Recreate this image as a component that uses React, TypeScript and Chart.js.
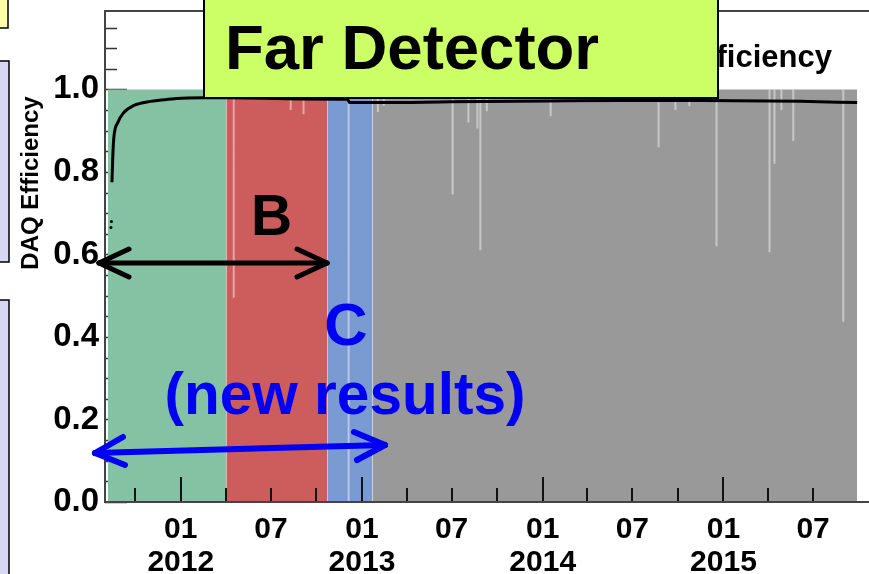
import React, { useEffect, useRef } from "react";
import { Chart, registerables } from "chart.js";

Chart.register(...registerables);

// ---- time axis (dates as ISO strings, converted to days since 2012-01-01) ----
const AXIS_START = "2011-08-01";
const AXIS_END = "2015-11-01";

// ---- running periods ----
const PERIOD_STARTS = ["2011-08-07", "2012-04-02", "2012-10-23", "2013-01-22"];
const PERIOD_ENDS = ["2012-04-02", "2012-10-23", "2013-01-22", "2015-09-28"];
const PERIOD_COLORS = ["#85c1a3", "#cd5c5c", "#7a9bd2", "#999999"];
const DAILY_LEVEL = 1.0;

// ---- days with reduced DAQ efficiency ----
const DIP_DATES = [
  "2012-04-17", "2012-08-10", "2012-09-05", "2012-12-05",
  "2013-02-02", "2013-02-14", "2013-07-03", "2013-08-04", "2013-08-22",
  "2013-08-28", "2013-09-10", "2014-01-17", "2014-08-23", "2014-09-26",
  "2014-10-24", "2014-12-18", "2015-04-04", "2015-04-14", "2015-04-28",
  "2015-05-22", "2015-08-31",
];
const DIP_VALUES = [
  0.495, 0.95, 0.94, 0.0,
  0.945, 0.96, 0.745, 0.92, 0.905,
  0.61, 0.947, 0.935, 0.86, 0.95,
  0.96, 0.62, 0.605, 0.82, 0.95,
  0.875, 0.437,
];

// ---- cumulative efficiency ----
const CUM_DATES = [
  "2011-08-15", "2011-08-17", "2011-08-19", "2011-08-27", "2011-09-08",
  "2011-09-28", "2011-11-01", "2011-12-06", "2012-01-15", "2012-02-16",
  "2012-04-11", "2012-08-30", "2012-12-03", "2012-12-07", "2013-02-08",
  "2013-06-29", "2014-01-17", "2014-06-07", "2014-11-15", "2015-06-05",
  "2015-09-28",
];
const CUM_VALUES = [
  0.775, 0.845, 0.885, 0.92, 0.944,
  0.961, 0.971, 0.976, 0.979, 0.98,
  0.98, 0.977, 0.976, 0.968, 0.968,
  0.97, 0.972, 0.973, 0.973, 0.971,
  0.968,
];
const EARLY_DATES = ["2011-08-13", "2011-08-14"];
const EARLY_VALUES = [0.665, 0.68];

// ---- axis ticks ----
const Y_MAX = 1.19;
const Y_TICKS = [0, 0.2, 0.4, 0.6, 0.8, 1.0];
const X_LABEL_DATES = [
  "2012-01-01", "2012-07-01", "2013-01-01", "2013-07-01",
  "2014-01-01", "2014-07-01", "2015-01-01", "2015-07-01",
];
const X_LABEL_TEXT: (string | string[])[] = [
  ["01", "2012"], "07", ["01", "2013"], "07",
  ["01", "2014"], "07", ["01", "2015"], "07",
];
const X_MAJOR_TICKS = ["2012-01-01", "2013-01-01", "2014-01-01", "2015-01-01"];
const X_MINOR_TICKS = [
  "2011-10-01", "2012-04-01", "2012-07-01", "2012-10-01",
  "2013-04-01", "2013-07-01", "2013-10-01", "2014-04-01",
  "2014-07-01", "2014-10-01", "2015-04-01", "2015-07-01",
];

const FONT = "'Liberation Sans', Arial, Helvetica, sans-serif";
const EPOCH = Date.parse("2012-01-01T00:00:00Z");
const day = (s: string) => (Date.parse(s + "T00:00:00Z") - EPOCH) / 86400000;

// inward tick marks and the frame around the plot
const frameTicks = {
  id: "frameTicks",
  beforeDatasetsDraw(chart: any) {
    const { ctx, chartArea, scales } = chart;
    const y = scales.y;
    ctx.save();
    ctx.strokeStyle = "#333";
    ctx.lineWidth = 1.5;
    for (let i = 0; i * 0.05 <= Y_MAX; i++) {
      const v = i * 0.05;
      const py = Math.round(y.getPixelForValue(v)) + 0.5;
      const len = i % 4 === 0 ? 22 : 12;
      ctx.beginPath();
      ctx.moveTo(chartArea.left, py);
      ctx.lineTo(chartArea.left + len, py);
      ctx.stroke();
    }
    ctx.restore();
  },
  afterDatasetsDraw(chart: any) {
    const { ctx, chartArea, scales } = chart;
    const x = scales.x;
    ctx.save();
    ctx.strokeStyle = "#111";
    ctx.lineWidth = 2;
    const tick = (d: string, len: number) => {
      const px = Math.round(x.getPixelForValue(day(d)));
      ctx.beginPath();
      ctx.moveTo(px, chartArea.bottom);
      ctx.lineTo(px, chartArea.bottom - len);
      ctx.stroke();
    };
    X_MAJOR_TICKS.forEach((d) => tick(d, 25));
    X_MINOR_TICKS.forEach((d) => tick(d, 14));
    ctx.strokeStyle = "#444";
    ctx.lineWidth = 2;
    ctx.beginPath();
    ctx.moveTo(chartArea.right, chartArea.top);
    ctx.lineTo(chartArea.left, chartArea.top);
    ctx.lineTo(chartArea.left, chartArea.bottom);
    ctx.lineTo(chartArea.right, chartArea.bottom);
    ctx.stroke();
    ctx.restore();
  },
};

export default function App() {
  const ref = useRef<HTMLCanvasElement | null>(null);

  useEffect(() => {
    if (!ref.current) return;

    const periodSets = PERIOD_STARTS.map((s, i) => ({
      type: "line" as const,
      data: [
        { x: day(s), y: DAILY_LEVEL },
        { x: day(PERIOD_ENDS[i]), y: DAILY_LEVEL },
      ],
      borderWidth: 0,
      borderColor: PERIOD_COLORS[i],
      backgroundColor: PERIOD_COLORS[i],
      fill: "origin",
      pointRadius: 0,
      order: 3,
    }));

    const dipPoints: { x: number; y: number | null }[] = [];
    DIP_DATES.forEach((d, i) => {
      dipPoints.push({ x: day(d), y: DAILY_LEVEL });
      dipPoints.push({ x: day(d), y: DIP_VALUES[i] });
      dipPoints.push({ x: day(d), y: null });
    });

    const chart = new Chart(ref.current, {
      type: "line",
      data: {
        datasets: [
          {
            data: CUM_DATES.map((d, i) => ({ x: day(d), y: CUM_VALUES[i] })),
            borderColor: "#000",
            borderWidth: 3,
            pointRadius: 0,
            fill: false,
            cubicInterpolationMode: "monotone",
            order: 0,
          },
          {
            data: EARLY_DATES.map((d, i) => ({ x: day(d), y: EARLY_VALUES[i] })),
            showLine: false,
            pointRadius: 1.5,
            pointBackgroundColor: "#000",
            pointBorderWidth: 0,
            order: 0,
          },
          {
            data: dipPoints,
            borderColor: "rgba(255,255,255,0.45)",
            borderWidth: 2,
            pointRadius: 0,
            spanGaps: false,
            fill: false,
            order: 1,
          },
          ...periodSets,
        ] as any,
      },
      options: {
        animation: false,
        responsive: false,
        events: [],
        layout: { padding: { top: 11, right: 26, left: 0, bottom: 0 } },
        plugins: {
          legend: { display: false },
          tooltip: { enabled: false },
          title: { display: false },
        },
        scales: {
          x: {
            type: "linear",
            min: day(AXIS_START),
            max: day(AXIS_END),
            grid: { display: false, drawTicks: false },
            border: { display: false },
            afterBuildTicks: (s: any) => {
              s.ticks = X_LABEL_DATES.map((d) => ({ value: day(d) }));
            },
            afterFit: (s: any) => {
              s.height = 72;
              s.paddingLeft = 0;
              s.paddingRight = 0;
            },
            ticks: {
              autoSkip: false,
              maxRotation: 0,
              padding: 11,
              color: "#000",
              font: { family: FONT, size: 30, weight: "bold", lineHeight: 1.1 },
              callback: (_v: any, i: number) => X_LABEL_TEXT[i],
            },
          },
          y: {
            type: "linear",
            min: 0,
            max: Y_MAX,
            grid: { display: false, drawTicks: false },
            border: { display: false },
            afterBuildTicks: (s: any) => {
              s.ticks = Y_TICKS.map((v) => ({ value: v }));
            },
            afterFit: (s: any) => {
              s.width = 105;
              s.paddingTop = 0;
              s.paddingBottom = 0;
            },
            ticks: {
              padding: 6,
              color: "#000",
              font: { family: FONT, size: 33, weight: "bold" },
              callback: (v: any) => Number(v).toFixed(1),
            },
          },
        },
      } as any,
      plugins: [frameTicks],
    });

    return () => chart.destroy();
  }, []);

  return (
    <div
      style={{
        position: "fixed",
        left: 0,
        top: 0,
        width: 869,
        height: 574,
        overflow: "hidden",
        background: "#fff",
      }}
    >
      <canvas
        ref={ref}
        width={900}
        height={574}
        style={{ position: "absolute", left: 0, top: 0, width: 900, height: 574 }}
      />
      <svg
        width={869}
        height={574}
        style={{ position: "absolute", left: 0, top: 0 }}
        fontFamily={FONT}
      >
        {/* neighbouring slide panels */}
        <rect x={-3} y={-3} width={11} height={31} fill="#ffffaa" stroke="#000" strokeWidth={1.5} />
        <rect x={-3} y={61} width={12} height={201} fill="#d8d8f6" stroke="#000" strokeWidth={1.5} />
        <rect x={-3} y={300} width={12} height={290} fill="#d8d8f6" stroke="#000" strokeWidth={1.5} />

        {/* axis title */}
        <text
          transform="translate(38,183) rotate(-90)"
          textAnchor="middle"
          fontSize={24}
          fontWeight="bold"
          fill="#000"
        >
          DAQ Efficiency
        </text>

        {/* plot title */}
        <text x={832} y={67} textAnchor="end" fontSize={31} fontWeight="bold" fill="#000">
          DAQ Efficiency
        </text>

        {/* detector label */}
        <rect x={204} y={-3} width={514} height={101} fill="#ccff66" stroke="#000" strokeWidth={2} />
        <text x={225} y={69} fontSize={63.5} fontWeight="bold" fill="#000">
          Far Detector
        </text>

        {/* period B */}
        <text x={251} y={235} fontSize={57} fontWeight="bold" fill="#000">
          B
        </text>
        <g stroke="#000" strokeWidth={5} strokeLinecap="round" fill="none">
          <line x1={99} y1={263} x2={327} y2={263} />
          <line x1={99} y1={263} x2={129} y2={249} />
          <line x1={99} y1={263} x2={129} y2={277} />
          <line x1={327} y1={263} x2={297} y2={249} />
          <line x1={327} y1={263} x2={297} y2={277} />
        </g>

        {/* period C */}
        <text x={346} y={345} textAnchor="middle" fontSize={60} fontWeight="bold" fill="#0000f5">
          C
        </text>
        <text x={345} y={414} textAnchor="middle" fontSize={58.5} fontWeight="bold" fill="#0000f5">
          (new results)
        </text>
        <g stroke="#0000f5" strokeWidth={6} strokeLinecap="round" fill="none">
          <line x1={95} y1={453} x2={385} y2={445} />
          <line x1={95} y1={453} x2={123} y2={437} />
          <line x1={95} y1={453} x2={125} y2={465} />
          <line x1={385} y1={445} x2={354} y2={432} />
          <line x1={385} y1={445} x2={357} y2={460} />
        </g>
      </svg>
    </div>
  );
}
